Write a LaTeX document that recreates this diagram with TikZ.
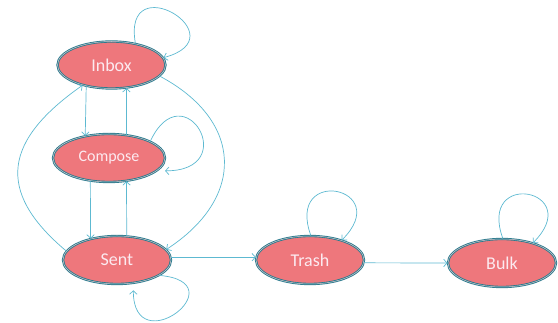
\documentclass[tikz,border=0pt]{standalone}
\usepackage{fontspec}
\setmainfont{Carlito}
\usetikzlibrary{shapes.geometric, arrows.meta}

\definecolor{statefill}{HTML}{EE777C}
\definecolor{stateline}{HTML}{2A7B8E}
\definecolor{statetext}{HTML}{FCEAF0}
\definecolor{edgecol}{HTML}{5DB9D1}

\begin{document}
\begin{tikzpicture}[x=1pt, y=1pt,
    state/.style={ellipse, fill=statefill, draw=stateline, double=statefill!60!stateline!40!white,
        double distance=0.5pt, line width=0.9pt, inner sep=0pt,
        minimum width=108pt, minimum height=47pt, text=statetext, font=\fontsize{18}{20}\selectfont},
    trans/.style={edgecol, line width=0.7pt, -{Straight Barb[length=3.5pt, width=7.5pt]}}]
    \useasboundingbox (0,0) rectangle (558,323);

    \node[state] (inbox) at (111.5,258) {Inbox};
    \node[state, minimum width=112pt, minimum height=48pt, font=\fontsize{16}{18}\selectfont] (compose) at (109,165) {Compose};
    \node[state, minimum height=48pt] (sent) at (117,63) {Sent};
    \node[state, minimum height=48pt] (trash) at (310,63) {Trash};
    \node[state, minimum height=48pt] (bulk) at (502,60) {Bulk};

    \draw[trans] (inbox.220) -- (compose.137);
    \draw[trans] (compose.53) -- (inbox.-57);
    \draw[trans] (compose.231) -- (sent.141);
    \draw[trans] (sent.68) -- (compose.-53);
    \draw[trans] (sent.170) to[out=140, in=215, looseness=1.45] (inbox.215);
    \draw[trans] (inbox.-13) to[out=-28, in=33, looseness=1.4] (sent.12);
    \draw[trans] (sent.3) -- (trash.177);
    \draw[trans] (trash.-3) -- (bulk.180);

    \draw[trans] (inbox.42) to[out=100, in=15, distance=80pt] (inbox.8);
    \draw[trans] (compose.22) to[out=65, in=0, distance=78pt] ([xshift=8pt]compose.-15);
    \draw[trans, shorten >=7pt] (sent.-20) to[out=-5, in=-90, distance=80pt] (sent.-55);
    \draw[trans] (trash.88) to[out=110, in=45, distance=75pt] (trash.32);
    \draw[trans] (bulk.88) to[out=110, in=45, distance=75pt] (bulk.33);
\end{tikzpicture}
\end{document}
